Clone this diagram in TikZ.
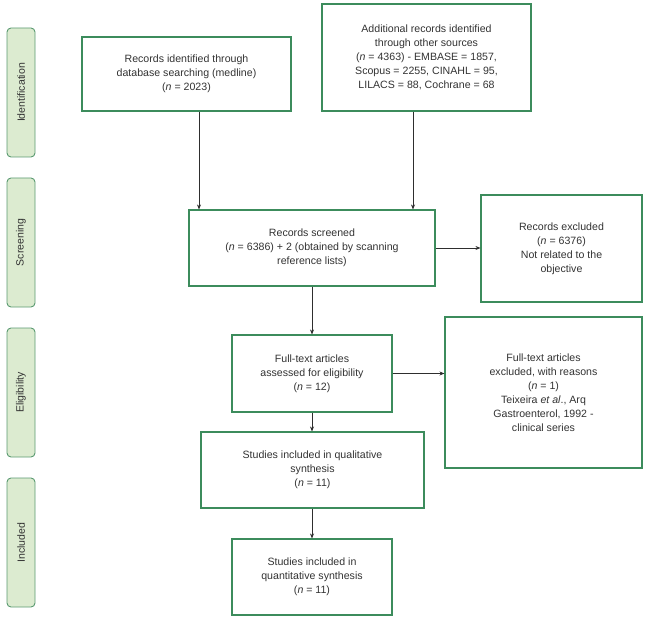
\documentclass[tikz,border=0pt]{standalone}
\usepackage{fontspec}
\setmainfont{Liberation Sans}
\usetikzlibrary{arrows.meta}
\definecolor{boxgreen}{HTML}{3C8C5C}
\definecolor{sidefill}{HTML}{DCEBD0}
\definecolor{sideline}{HTML}{5A9A70}
\definecolor{txt}{HTML}{333333}
\tikzset{
  box/.style={draw=boxgreen, line width=1.1pt, fill=white, align=center, text=txt,
    font=\fontsize{10.6}{14}\selectfont, inner sep=2pt},
  side/.style={draw=sideline, line width=0.9pt, fill=sidefill, rounded corners=4pt,
    minimum width=28pt, minimum height=129pt},
  sidetext/.style={rotate=90, text=txt, font=\fontsize{10.5}{12}\selectfont},
  arr/.style={draw=txt!90!black, line width=0.6pt, -{Stealth[length=5pt,width=4pt]}}
}
\begin{document}
\begin{tikzpicture}[x=1pt,y=-1pt]
\useasboundingbox (0,0) rectangle (647,620);
% side labels
\node[side] (s1) at (21,92.5) {};
\node[sidetext] (t1) at (s1.center) {Identification};
\node[side] (s2) at (21,242.5) {};
\node[sidetext] (t2) at (s2.center) {Screening};
\node[side] (s3) at (21,392.5) {};
\node[sidetext] (t3) at (s3.center) {Eligibility};
\node[side] (s4) at (21,542.5) {};
\node[sidetext] (t4) at (s4.center) {Included};
% boxes
\node[box, minimum width=209pt, minimum height=74pt] (A) at (186.5,74)
  {Records identified through\\database searching (medline)\\(\textit{n} = 2023)};
\node[box, minimum width=209pt, minimum height=107pt] (B) at (426.5,57.5)
  {Additional records identified\\through other sources\\(\textit{n} = 4363) - EMBASE = 1857,\\Scopus = 2255, CINAHL = 95,\\LILACS = 88, Cochrane = 68};
\node[box, minimum width=246pt, minimum height=76pt] (S) at (312,248)
  {Records screened\\(\textit{n} = 6386) + 2 (obtained by scanning\\reference lists)};
\node[box, minimum width=161pt, minimum height=107pt] (E1) at (561.5,248.5)
  {Records excluded\\(\textit{n} = 6376)\\Not related to the\\objective};
\node[box, minimum width=160pt, minimum height=77pt] (F) at (312,373.5)
  {Full-text articles\\assessed for eligibility\\(\textit{n} = 12)};
\node[box, minimum width=197pt, minimum height=151pt] (E2) at (543.5,392.5)
  {Full-text articles\\excluded, with reasons\\(\textit{n} = 1)\\Teixeira \textit{et al}., Arq\\Gastroenterol, 1992 -\\clinical series};
\node[box, minimum width=223pt, minimum height=76pt] (Q) at (312.5,470)
  {Studies included in qualitative\\synthesis\\(\textit{n} = 11)};
\node[box, minimum width=160pt, minimum height=76pt] (R) at (312,577)
  {Studies included in\\quantitative synthesis\\(\textit{n} = 11)};
% connectors
\draw[arr] ([xshift=12.5pt]A.south) -- ([xshift=12.5pt]A.south |- S.north);
\draw[arr] ([xshift=-13.5pt]B.south) -- ([xshift=-13.5pt]B.south |- S.north);
\draw[arr] (S.east) -- (S.east -| E1.west);
\draw[arr] (S.south) -- (F.north);
\draw[arr] (F.east) -- (F.east -| E2.west);
\draw[arr] (F.south) -- (F.south |- Q.north);
\draw[arr] (Q.south -| R.north) -- (R.north);
\end{tikzpicture}
\end{document}
